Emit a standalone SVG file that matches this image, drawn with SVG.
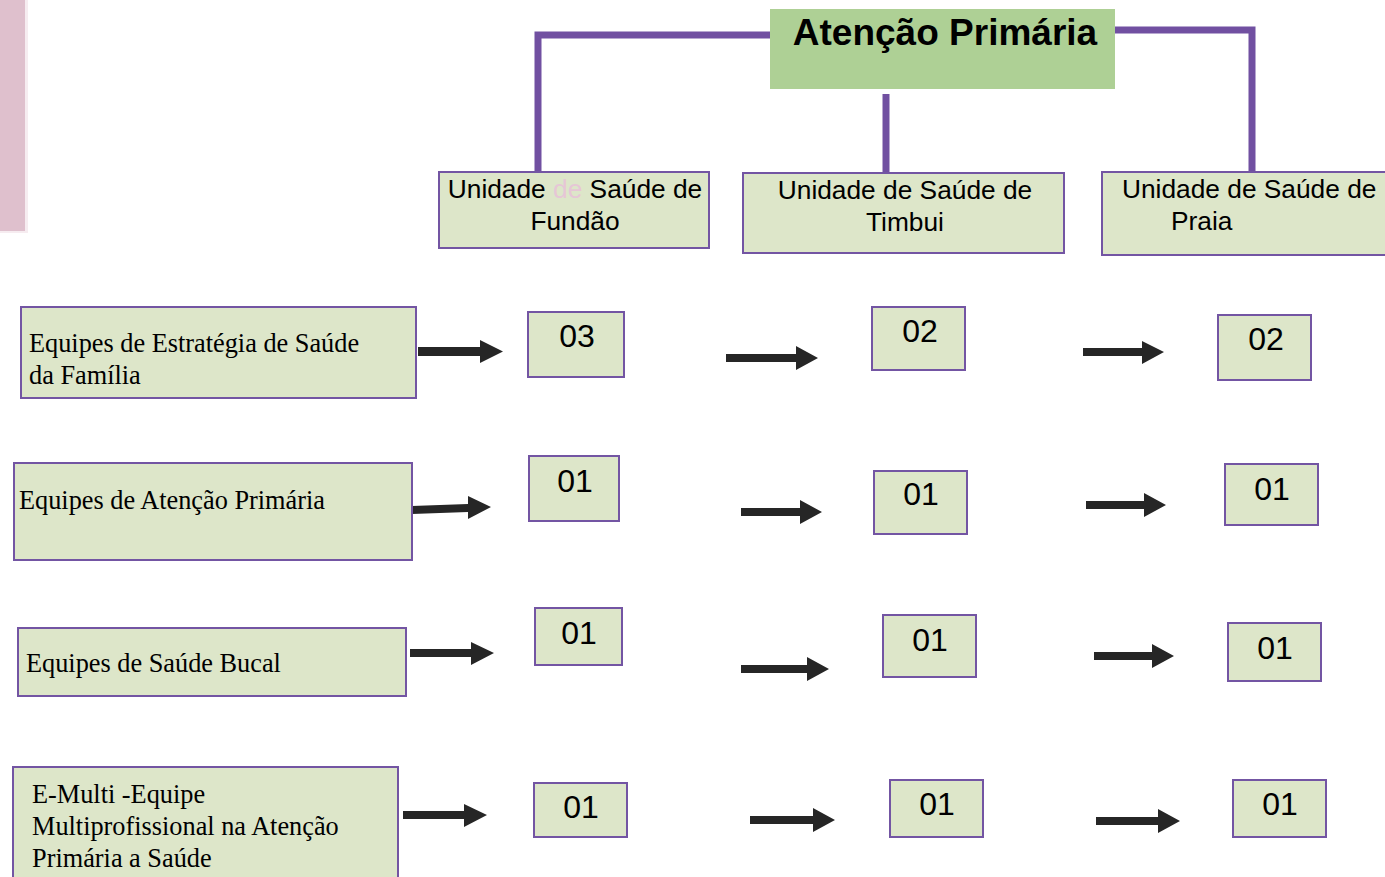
<svg xmlns="http://www.w3.org/2000/svg" width="1385" height="877" viewBox="0 0 1385 877">
<defs>
<style>
.box{fill:#dde6c9;stroke:#7355a3;stroke-width:2}
.num{fill:#dde6c9;stroke:#7355a3;stroke-width:2}
.title{fill:#aed095}
.sans{font-family:"Liberation Sans",Arial,sans-serif;fill:#000}
.serif{font-family:"Liberation Serif","Times New Roman",serif;fill:#000;font-size:26.3px}
.unit{font-size:26.3px}
.digit{font-size:32px;text-anchor:middle}
.line{stroke:#7150a1;stroke-width:7;fill:none}
.arrow{fill:#262626}
</style>
</defs>
<rect x="0" y="0" width="25" height="231" fill="#dfc0cd"/>
<rect x="25" y="0" width="3" height="233" fill="#f6ecf0"/>
<rect x="0" y="231" width="28" height="2" fill="#f6ecf0"/>

<g id="connectors">
<path class="line" d="M771 35 H538 V172"/>
<path class="line" d="M886 94 V172"/>
<path class="line" d="M1115 30 H1252 V172"/>
<g class="arrow">
<path d="M418 347 H480 V340 L503 351.5 L480 363 V356 H418 Z"/>
<path d="M726 354 H796 V346 L818 358 L796 370 V362 H726 Z"/>
<path d="M1083 348 H1142 V341 L1164 352 L1142 364 V356 H1083 Z"/>
<path d="M412 506 L468 504 V496 L491 507 L468 519 V512 L412 514 Z"/>
<path d="M741 508 H800 V500 L822 512 L800 524 V516 H741 Z"/>
<path d="M1086 501 H1144 V493 L1166 505 L1144 517 V509 H1086 Z"/>
<path d="M410 649 H471 V642 L494 653 L471 665 V657 H410 Z"/>
<path d="M741 665 H807 V657 L829 669 L807 681 V673 H741 Z"/>
<path d="M1094 652 H1152 V644 L1174 656 L1152 668 V660 H1094 Z"/>
<path d="M403 811 H464 V804 L487 815 L464 827 V819 H403 Z"/>
<path d="M750 816 H813 V808 L835 820 L813 832 V824 H750 Z"/>
<path d="M1096 817 H1158 V809 L1180 821 L1158 833 V825 H1096 Z"/>
</g>
</g>

<g id="title">
<rect class="title" x="770" y="9" width="345" height="80"/>
<text class="sans" x="945" y="45" font-size="37" font-weight="bold" text-anchor="middle">Atenção Primária</text>
</g>

<g id="unit-fundao">
<rect class="box" x="439" y="172" width="270" height="76"/>
<text class="sans unit" x="575" y="198" text-anchor="middle">Unidade <tspan fill="#e6c6d6">de</tspan> Saúde de</text>
<text class="sans unit" x="575" y="230" text-anchor="middle">Fundão</text>
</g>
<g id="unit-timbui">
<rect class="box" x="743" y="173" width="321" height="80"/>
<text class="sans unit" x="905" y="199" text-anchor="middle">Unidade de Saúde de</text>
<text class="sans unit" x="905" y="231" text-anchor="middle">Timbui</text>
</g>
<g id="unit-praia">
<rect class="box" x="1102" y="172" width="290" height="83"/>
<text class="sans unit" x="1122" y="198">Unidade de Saúde de</text>
<text class="sans unit" x="1171" y="230">Praia</text>
</g>

<g id="row-esf">
<rect class="box" x="21" y="307" width="395" height="91"/>
<text class="serif" x="29" y="352">Equipes de Estratégia de Saúde</text>
<text class="serif" x="29" y="384">da Família</text>
</g>
<g id="row-eap">
<rect class="box" x="14" y="463" width="398" height="97"/>
<text class="serif" x="19" y="509">Equipes de Atenção Primária</text>
</g>
<g id="row-esb">
<rect class="box" x="18" y="628" width="388" height="68"/>
<text class="serif" x="26" y="672">Equipes de Saúde Bucal</text>
</g>
<g id="row-emulti">
<rect class="box" x="13" y="767" width="385" height="120"/>
<text class="serif" x="32" y="803">E-Multi -Equipe</text>
<text class="serif" x="32" y="835">Multiprofissional na Atenção</text>
<text class="serif" x="32" y="867">Primária a Saúde</text>
</g>

<g id="n-esf-fundao"><rect class="num" x="528" y="312" width="96" height="65"/><text class="sans digit" x="577" y="347">03</text></g>
<g id="n-esf-timbui"><rect class="num" x="872" y="307" width="93" height="63"/><text class="sans digit" x="920" y="342">02</text></g>
<g id="n-esf-praia"><rect class="num" x="1218" y="315" width="93" height="65"/><text class="sans digit" x="1266" y="350">02</text></g>

<g id="n-eap-fundao"><rect class="num" x="529" y="456" width="90" height="65"/><text class="sans digit" x="575" y="492">01</text></g>
<g id="n-eap-timbui"><rect class="num" x="874" y="471" width="93" height="63"/><text class="sans digit" x="921" y="505">01</text></g>
<g id="n-eap-praia"><rect class="num" x="1225" y="464" width="93" height="61"/><text class="sans digit" x="1272" y="500">01</text></g>

<g id="n-esb-fundao"><rect class="num" x="535" y="608" width="87" height="57"/><text class="sans digit" x="579" y="644">01</text></g>
<g id="n-esb-timbui"><rect class="num" x="883" y="615" width="93" height="62"/><text class="sans digit" x="930" y="651">01</text></g>
<g id="n-esb-praia"><rect class="num" x="1228" y="623" width="93" height="58"/><text class="sans digit" x="1275" y="659">01</text></g>

<g id="n-emulti-fundao"><rect class="num" x="534" y="783" width="93" height="54"/><text class="sans digit" x="581" y="818">01</text></g>
<g id="n-emulti-timbui"><rect class="num" x="890" y="780" width="93" height="57"/><text class="sans digit" x="937" y="815">01</text></g>
<g id="n-emulti-praia"><rect class="num" x="1233" y="780" width="93" height="57"/><text class="sans digit" x="1280" y="815">01</text></g>
</svg>
